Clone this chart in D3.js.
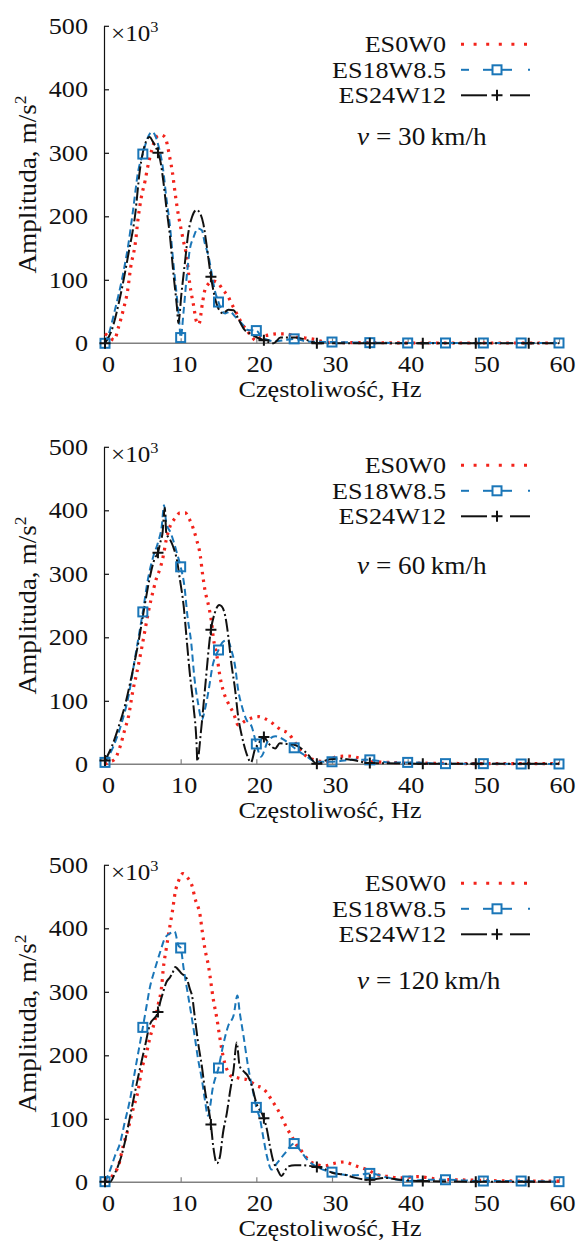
<!DOCTYPE html>
<html>
<head>
<meta charset="utf-8">
<script src="https://cdn.jsdelivr.net/npm/d3@7"></script>
<style>
  body { margin: 0; background: #fff; }
  svg { display: block; }
  text { font-family: "Liberation Serif", "Times New Roman", serif; fill: #111; }
</style>
</head>
<body>
<svg id="chart" width="582" height="1250"></svg>
<script>
// ---- axis ticks and labels ----
const freqTicks = [0, 10, 20, 30, 40, 50, 60];
const ampTicks = [0, 100, 200, 300, 400, 500];
const seriesNames = ["ES0W0", "ES18W8.5", "ES24W12"];
const speeds = [30, 60, 120];
const squareHz = [0, 5, 10, 15, 20, 25, 30, 35, 40, 45, 50, 55, 60];
const plusHz = [0, 7, 14, 21, 28, 35, 42, 49, 56];

// ---- spectra, [frequency Hz, amplitude ×10^3 m/s^2] ----
// v = 30 km/h
const es0w0_30 = [[0,15],[0.5,11],[1.2,5],[1.8,26],[2.4,52],[3.0,84],[3.4,120],[4.0,157],[4.4,199],[4.8,230],[5.3,256],[5.6,275],[6.2,305],[6.8,325],[7.4,328],[7.9,325],[8.6,290],[8.9,270],[9.25,238],[9.6,209],[10.0,183],[10.35,162],[10.8,136],[11.2,94],[11.7,60],[12.1,34],[12.4,30],[12.9,65],[13.2,84],[13.7,94],[14.3,98],[15.0,94],[15.6,84],[16.3,73],[16.7,63],[17.4,47],[18.1,31],[18.7,21],[19.4,10],[20,4],[20.6,10],[21.6,13],[22.8,15],[24,15],[25.2,10],[26.7,8],[27.7,6],[28.7,3],[30,1],[35,1],[40,0.5],[50,0.5],[60,0.5]];
const es18w85_30 = [[0,0],[0.5,15],[1.3,52],[2.4,110],[3.1,157],[3.7,209],[4.4,272],[5,298],[5.5,319],[6.2,333],[6.6,328],[7.0,314],[7.7,272],[8.1,230],[8.6,183],[9.0,131],[9.5,73],[9.8,37],[10,9],[10.4,52],[10.8,105],[11.2,147],[11.7,167],[12.3,181],[12.8,178],[13.2,157],[13.7,136],[14.1,110],[14.5,84],[15,65],[15.4,52],[15.9,47],[16.5,50],[17.2,42],[18.1,31],[18.9,21],[20,20],[20.7,10],[21.6,5],[22.3,3],[23.8,5],[25,7],[26.7,3],[30,2],[35,1],[40,0.5],[45,0.5],[50,0.5],[55,0.5],[60,0.5]];
const es24w12_30 = [[0,0],[0.9,21],[2.0,73],[3.1,141],[4.0,204],[4.6,272],[5.3,314],[5.9,325],[6.3,318],[7,300],[7.3,288],[7.7,256],[8.1,215],[8.6,167],[9.0,115],[9.5,58],[9.7,32],[10.1,78],[10.6,131],[11.0,173],[11.5,199],[12.1,210],[12.6,204],[13.0,188],[13.4,157],[14,105],[14.5,73],[15.1,52],[15.6,47],[16.3,53],[17.0,52],[17.6,39],[18.4,22],[19.4,14],[20.3,8],[21,5],[22.3,0],[23.2,9],[25.2,9],[26.7,5],[28,0],[35,0],[42,0],[49,0],[56,0],[60,0]];

// v = 60 km/h
const es0w0_60 = [[0,0],[0.4,3],[1.2,7],[2.0,28],[2.6,54],[3.1,75],[3.7,117],[4.2,144],[4.8,180],[5.3,212],[5.7,238],[6.4,275],[6.8,293],[7.3,309],[7.7,328],[8.1,354],[8.6,375],[9.3,388],[9.9,396],[10.6,396],[11.2,385],[11.7,370],[12.1,354],[12.6,328],[12.9,299],[13.2,275],[13.7,249],[14.1,222],[14.3,201],[14.8,170],[15.2,138],[15.6,117],[16.3,96],[17.0,80],[17.6,62],[18.5,68],[19.4,73],[20.3,75],[21.1,72],[22.0,66],[22.7,59],[23.3,54],[24.2,49],[25.2,33],[26.2,17],[27.7,7],[29.2,4],[30.6,12],[32.1,13],[33.8,9],[35,4],[37.5,3],[40,2],[45,1.5],[50,1],[55,1],[60,1]];
const es18w85_60 = [[0,3],[1.1,28],[2.2,65],[3.1,107],[4.0,170],[5,240],[5.7,293],[6.4,328],[7.0,349],[7.5,375],[7.8,408],[8.1,380],[8.7,364],[9.5,333],[10,311],[10.5,280],[10.9,233],[11.4,191],[11.8,138],[12.3,96],[12.8,70],[13.2,86],[13.7,117],[14.2,154],[15,180],[15.6,193],[16.2,196],[16.7,180],[17.2,154],[17.6,117],[18.1,91],[18.7,70],[19.4,59],[20,32],[20.6,12],[21.6,38],[22.5,44],[23.3,41],[24.3,33],[25,26],[26.7,12],[27.9,4],[30,4],[32.6,7],[35,7],[37.5,3],[40,3],[45,1],[50,1],[55,0.5],[60,0.5]];
const es24w12_60 = [[0,6],[0.9,28],[1.8,59],[2.6,91],[3.5,138],[4.4,191],[5.3,254],[5.9,293],[6.6,325],[7,333],[7.3,349],[7.6,364],[7.9,404],[8.1,364],[8.6,354],[9.0,343],[9.5,322],[9.9,291],[10.4,249],[10.8,196],[11.2,144],[11.7,91],[12.1,33],[12.2,5],[12.7,54],[13.2,117],[14,212],[14.5,238],[15.1,251],[15.4,249],[15.9,233],[16.3,201],[16.7,159],[17.2,117],[17.6,75],[18.1,44],[18.7,17],[19.3,3],[19.8,23],[20.3,33],[21,43],[21.6,33],[22.5,25],[23.1,33],[24.0,32],[25.2,30],[26.7,17],[28,1],[29.7,8],[31.1,9],[32.6,7],[35,2],[42,1],[49,1],[56,1],[60,1]];

// v = 120 km/h
const es0w0_120 = [[0,6],[0.4,4],[1.1,12],[1.8,27],[2.4,57],[3.1,86],[3.7,115],[4.4,146],[4.8,175],[5.5,204],[5.9,226],[6.6,255],[7.0,278],[7.5,310],[7.7,336],[8.1,368],[8.6,405],[8.9,426],[9.3,458],[9.7,474],[10.3,486],[10.9,480],[11.5,467],[11.9,447],[12.6,418],[12.8,400],[13.2,368],[13.7,339],[13.9,323],[14.3,289],[14.8,257],[15.2,226],[15.6,199],[16.1,178],[16.7,167],[17.4,165],[18.1,163],[18.7,162],[19.4,157],[20.0,152],[20.7,149],[21.4,141],[22.0,130],[22.7,117],[23.3,104],[24.0,86],[24.7,72],[25.3,59],[26.0,49],[26.9,35],[27.5,30],[28.2,27],[29.1,26],[30,29],[30.8,31],[31.6,32],[33.1,26],[34.6,20],[36,12],[37.5,9],[39,7],[41.4,9],[43.9,5],[46.3,4],[49.8,3],[54.7,2],[60,2]];
const es18w85_120 = [[0,1],[0.7,20],[1.3,41],[2.0,62],[2.6,94],[3.3,130],[4.0,178],[5,244],[5.5,278],[5.9,305],[6.6,336],[7.3,363],[7.9,384],[8.6,392],[9.2,395],[9.7,373],[10,369],[10.4,336],[10.9,300],[11.5,257],[11.9,226],[12.3,194],[12.8,162],[13.2,130],[13.6,105],[14.3,152],[15,180],[15.6,215],[16.3,247],[17.0,263],[17.5,294],[17.8,268],[18.3,231],[18.9,183],[19.6,141],[20,118],[20.5,99],[20.9,72],[21.4,41],[22,20],[22.8,31],[23.8,46],[25,61],[25.7,52],[26.7,36],[28.2,23],[30,16],[31.6,12],[33,11],[35,14],[37.5,7],[40,2],[42.5,4],[45,4],[50,2],[55,2],[60,1]];
const es24w12_120 = [[0,1],[0.7,1],[1.3,14],[2.0,35],[2.6,62],[3.5,115],[4.4,167],[5.3,215],[5.9,247],[7,268],[7.3,284],[7.7,300],[8.1,315],[8.6,323],[8.9,329],[9.3,339],[9.6,336],[10.1,329],[10.8,321],[11.2,305],[11.5,294],[11.9,257],[12.3,220],[12.8,183],[13.2,146],[14,91],[14.3,57],[14.8,30],[15.2,41],[15.6,78],[16.1,109],[16.5,141],[17.0,178],[17.4,220],[17.8,183],[18.3,175],[18.9,167],[19.4,152],[20.0,125],[21,101],[21.4,83],[21.8,57],[22.2,35],[22.8,20],[23.3,10],[24.2,25],[25.1,27],[26.0,27],[26.9,26],[28,24],[29.2,20],[30,15],[31.6,12],[33.1,7],[35,4],[37,7],[39,4],[42,2],[49,1],[56,1],[60,1]];

const spectra = [
  [es0w0_30, es18w85_30, es24w12_30],
  [es0w0_60, es18w85_60, es24w12_60],
  [es0w0_120, es18w85_120, es24w12_120]
];

// ---- layout ----
const panelBase = [343.3, 764.3, 1182.3];   // pixel row of amplitude 0
const speedLabelRise = [198, 190, 193];
const plotH = 317.5;
const xLeft = 105, xRight = 559;
const SX = 1.09;                             // horizontal widening of the serif lettering

const svg = d3.select("#chart");
const x = d3.scaleLinear().domain([0, 60]).range([xLeft, xRight]);

const styles = [
  { color: "#f2231b", width: 3.2, dash: "2.6,5.2" },
  { color: "#1a76b8", width: 2, dash: "7,4" },
  { color: "#111111", width: 2, dash: "13,3,2,3" }
];

// text placed at (tx, ty) and widened horizontally
function label(parent, tx, ty, size, anchor) {
  return parent.append("text")
    .attr("transform", `translate(${tx},${ty}) scale(${SX},1)`)
    .attr("font-size", size)
    .attr("text-anchor", anchor || "start");
}

function drawSquare(g, cx, cy, color, fill) {
  g.append("rect").attr("x", cx - 4.5).attr("y", cy - 4.5)
    .attr("width", 9).attr("height", 9)
    .attr("fill", fill ? "#fff" : "none")
    .attr("stroke", color).attr("stroke-width", 2);
}
function drawPlus(g, cx, cy, color) {
  g.append("path")
    .attr("d", `M${cx - 5.5},${cy}H${cx + 5.5}M${cx},${cy - 5.5}V${cy + 5.5}`)
    .attr("stroke", color).attr("stroke-width", 2).attr("fill", "none");
}

speeds.forEach((speed, p) => {
  const base = panelBase[p];
  const y = d3.scaleLinear().domain([0, 500]).range([base, base - plotH]);
  const g = svg.append("g");

  // y axis
  const yAxis = g.append("g")
    .attr("transform", `translate(${xLeft - 1},0)`)
    .call(d3.axisLeft(y).tickValues(ampTicks).tickSize(-5).tickSizeOuter(0).tickPadding(16));
  yAxis.select(".domain").attr("stroke", "#111").attr("stroke-width", 1.2);
  yAxis.selectAll(".tick line").attr("stroke", "#111").attr("stroke-width", 1.2)
    .filter(d => d === 0).remove();
  yAxis.selectAll(".tick text").attr("font-size", 24)
    .attr("x", -16 / SX).attr("transform", `scale(${SX},1)`)
    .style("font-family", '"Liberation Serif", serif').attr("fill", "#111");

  // x axis
  const xAxis = g.append("g")
    .attr("transform", `translate(0,${base})`)
    .call(d3.axisBottom(x).tickValues(freqTicks).tickSize(-5).tickSizeOuter(0).tickPadding(12));
  xAxis.select(".domain").attr("stroke", "#808080").attr("stroke-width", 1.6)
    .attr("d", `M${xLeft - 1},0H${xRight + 1}`);
  xAxis.selectAll(".tick line").attr("stroke", "#808080").attr("stroke-width", 1.2)
    .filter(d => d === 0).remove();
  xAxis.selectAll(".tick text").attr("font-size", 24)
    .attr("x", 3 / SX).attr("transform", `scale(${SX},1)`)
    .style("font-family", '"Liberation Serif", serif').attr("fill", "#111");

  // scale factor
  const mult = label(g, xLeft + 6, base - 302, 23);
  mult.append("tspan").text("×10");
  mult.append("tspan").attr("font-size", 15).attr("dy", -9).text("3");

  // axis titles
  const yt = g.append("text")
    .attr("transform", `translate(36,${base - plotH / 2}) rotate(-90) scale(${SX},1)`)
    .attr("text-anchor", "middle").attr("font-size", 25);
  yt.append("tspan").text("Amplituda, m/s");
  yt.append("tspan").attr("font-size", 16).attr("dy", -10).text("2");

  label(g, (xLeft + xRight) / 2 - 2, base + 54, 24, "middle").text("Częstoliwość, Hz");

  // curves
  const line = d3.line().x(d => x(d[0])).y(d => y(d[1])).curve(d3.curveMonotoneX);
  spectra[p].forEach((data, s) => {
    const st = styles[s];
    g.append("path").datum(data)
      .attr("d", line)
      .attr("fill", "none")
      .attr("stroke", st.color)
      .attr("stroke-width", st.width)
      .attr("stroke-dasharray", st.dash)
      .attr("stroke-linejoin", "round");
  });

  // markers
  const mk = g.append("g");
  spectra[p][1].filter(d => squareHz.includes(d[0]))
    .forEach(d => drawSquare(mk, x(d[0]), y(d[1]), styles[1].color, false));
  spectra[p][2].filter(d => plusHz.includes(d[0]))
    .forEach(d => drawPlus(mk, x(d[0]), y(d[1]), styles[2].color));

  // legend
  const lg = g.append("g");
  const rows = [base - 291, base - 265.5, base - 240];
  seriesNames.forEach((name, s) => {
    label(lg, 446, rows[s], 24, "end").text(name);
  });
  const ly = rows.map(r => r - 8);
  lg.append("line").attr("x1", 461).attr("x2", 530).attr("y1", ly[0]).attr("y2", ly[0])
    .attr("stroke", styles[0].color).attr("stroke-width", 3).attr("stroke-dasharray", "3,9.6");
  [[461, 469], [483, 512], [528, 530]].forEach(([a, b]) => {
    lg.append("line").attr("x1", a).attr("x2", b).attr("y1", ly[1]).attr("y2", ly[1])
      .attr("stroke", styles[1].color).attr("stroke-width", 2);
  });
  drawSquare(lg, 497, ly[1], styles[1].color, true);
  [[461, 487], [510, 530]].forEach(([a, b]) => {
    lg.append("line").attr("x1", a).attr("x2", b).attr("y1", ly[2]).attr("y2", ly[2])
      .attr("stroke", styles[2].color).attr("stroke-width", 2);
  });
  drawPlus(lg, 497, ly[2], styles[2].color);

  // speed annotation
  const vt = label(g, 357, base - speedLabelRise[p], 25);
  vt.append("tspan").attr("font-style", "italic").text("v");
  vt.append("tspan").text(` = ${speed}\u2009km/h`);
});
</script>
</body>
</html>
